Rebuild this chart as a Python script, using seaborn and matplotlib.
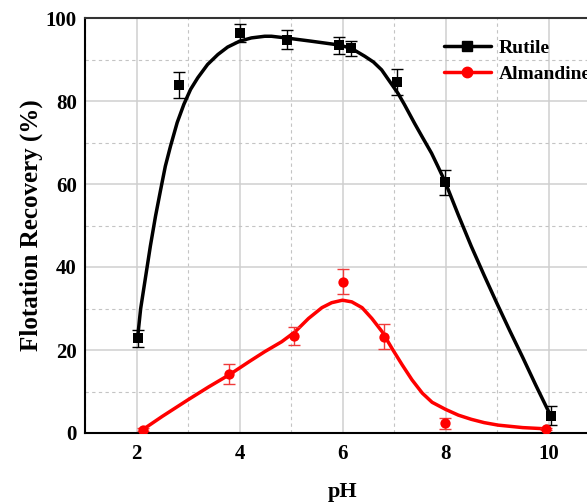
import matplotlib
matplotlib.use("Agg")
import matplotlib.pyplot as plt
import seaborn as sns
from matplotlib.lines import Line2D
from matplotlib.ticker import MultipleLocator

# Measured flotation recovery vs pH (mean and standard deviation)
ph_rutile = [2.02, 2.82, 4.0, 4.93, 5.93, 6.17, 7.05, 7.99, 10.04]
rec_rutile = [22.8, 83.9, 96.4, 94.8, 93.4, 92.7, 84.6, 60.4, 4.2]
err_rutile = [2.0, 3.1, 2.2, 2.3, 2.0, 1.8, 3.2, 3.0, 2.3]

ph_alm = [2.12, 3.8, 5.06, 6.0, 6.8, 7.99, 9.96]
rec_alm = [0.8, 14.2, 23.3, 36.5, 23.2, 2.3, 1.0]
err_alm = [0.3, 2.5, 2.2, 2.9, 3.0, 1.4, 0.3]

# Smoothed fit curves through the measurements
fit_ph_rutile = [2.02, 2.08, 2.18, 2.27, 2.37, 2.47, 2.56, 2.66, 2.79, 2.92,
                 3.05, 3.19, 3.38, 3.58, 3.77, 4.0, 4.23, 4.49, 4.62, 4.9,
                 5.4, 5.93, 6.17, 6.43, 6.6, 6.76, 6.9, 7.08, 7.2, 7.4,
                 7.55, 7.73, 7.85, 7.99, 8.25, 8.5, 8.75, 9.0, 9.25, 9.5,
                 9.75, 10.04]
fit_rec_rutile = [22.8, 29.9, 37.9, 45.1, 52.3, 58.7, 64.3, 69.1, 74.8, 79.2,
                  82.8, 85.6, 88.8, 91.2, 93.0, 94.4, 95.2, 95.6, 95.6, 95.2,
                  94.4, 93.5, 92.7, 90.8, 89.4, 87.5, 85.0, 81.8, 79.2, 74.6,
                  71.3, 67.4, 64.3, 60.6, 52.5, 45.0, 38.0, 31.2, 24.6, 18.2,
                  11.6, 4.2]

fit_ph_alm = [2.12, 2.5, 3.0, 3.4, 3.81, 4.2, 4.49, 4.82, 5.08, 5.34, 5.6,
              5.79, 6.0, 6.18, 6.38, 6.57, 6.77, 6.96, 7.16, 7.35, 7.55,
              7.74, 8.0, 8.25, 8.5, 8.75, 9.02, 9.5, 9.96]
fit_rec_alm = [0.8, 4.0, 8.0, 11.1, 14.1, 17.3, 19.6, 22.0, 24.4, 27.6, 30.2,
               31.4, 32.0, 31.6, 30.2, 27.6, 24.4, 20.4, 16.4, 12.8, 9.6,
               7.4, 5.7, 4.3, 3.3, 2.5, 1.9, 1.3, 1.0]

series_names = ["Rutile", "Almandine"]
series_colors = ["black", "red"]

sns.set_style("white")
plt.rcParams["font.family"] = ["Liberation Serif", "DejaVu Serif"]
plt.rcParams["font.weight"] = "bold"
plt.rcParams["text.color"] = "black"
plt.rcParams["axes.labelcolor"] = "black"
plt.rcParams["lines.solid_joinstyle"] = "round"

fig = plt.figure(figsize=(5.87, 5.04), dpi=100)
ax = fig.add_axes([85 / 587, 71 / 504, 515 / 587, 415 / 504])

# grid: solid major, dashed minor
ax.xaxis.set_major_locator(MultipleLocator(2))
ax.xaxis.set_minor_locator(MultipleLocator(1))
ax.yaxis.set_major_locator(MultipleLocator(20))
ax.yaxis.set_minor_locator(MultipleLocator(10))
ax.grid(which="major", color="#cfcfcf", linewidth=1.1, linestyle="-")
ax.grid(which="minor", color="#c4c4c4", linewidth=0.8, linestyle=(0, (3, 3)))
ax.set_axisbelow(True)

# fitted curves
sns.lineplot(x=fit_ph_rutile, y=fit_rec_rutile, color=series_colors[0],
             linewidth=2.5, sort=False, estimator=None, ax=ax, zorder=3)
sns.lineplot(x=fit_ph_alm, y=fit_rec_alm, color=series_colors[1],
             linewidth=2.5, sort=False, estimator=None, ax=ax, zorder=3)

# error bars
ax.errorbar(ph_rutile, rec_rutile, yerr=err_rutile, fmt="none",
            ecolor="black", elinewidth=1.0, capsize=4, capthick=1.0, zorder=4)
ax.errorbar(ph_alm, rec_alm, yerr=err_alm, fmt="none",
            ecolor="#f03a3a", elinewidth=1.0, capsize=4, capthick=1.0, zorder=4)

# measured points
sns.scatterplot(x=ph_rutile, y=rec_rutile, marker="s", s=42,
                color=series_colors[0], edgecolor=series_colors[0],
                linewidth=0, ax=ax, zorder=5)
sns.scatterplot(x=ph_alm, y=rec_alm, marker="o", s=55,
                color=series_colors[1], edgecolor=series_colors[1],
                linewidth=0, ax=ax, zorder=5)

ax.set_xlim(1, 11)
ax.set_ylim(0, 100)
ax.set_xticks([2, 4, 6, 8, 10])
ax.set_yticks([0, 20, 40, 60, 80, 100])

ax.tick_params(which="both", direction="in", length=5, width=1.3,
               colors="black", labelsize=15)
ax.tick_params(axis="x", which="both", pad=8)
ax.tick_params(axis="y", which="both", pad=6)
ax.tick_params(which="both", top=False, right=False)
for lbl in ax.get_xticklabels() + ax.get_yticklabels():
    lbl.set_fontweight("bold")

for side in ["left", "bottom"]:
    ax.spines[side].set_color("black")
    ax.spines[side].set_linewidth(1.5)
ax.spines["top"].set_color("#333333")
ax.spines["top"].set_linewidth(1.5)

ax.set_xlabel("pH", fontsize=16, fontweight="bold", labelpad=13)
ax.set_ylabel("Flotation Recovery (%)", fontsize=18, fontweight="bold",
              labelpad=2)

handles = [
    Line2D([], [], color=series_colors[0], linewidth=2.5, marker="s",
           markersize=6.5),
    Line2D([], [], color=series_colors[1], linewidth=2.5, marker="o",
           markersize=7.5),
]
fig.legend(handles, series_names, loc="upper left",
           bbox_to_anchor=(444 / 587, 1 - 39 / 504),
           bbox_transform=fig.transFigure, frameon=False,
           prop={"weight": "bold", "size": 14}, handlelength=2.4,
           handletextpad=0.4, labelspacing=0.45, borderpad=0,
           borderaxespad=0)

fig.savefig("out.png", dpi=100)
